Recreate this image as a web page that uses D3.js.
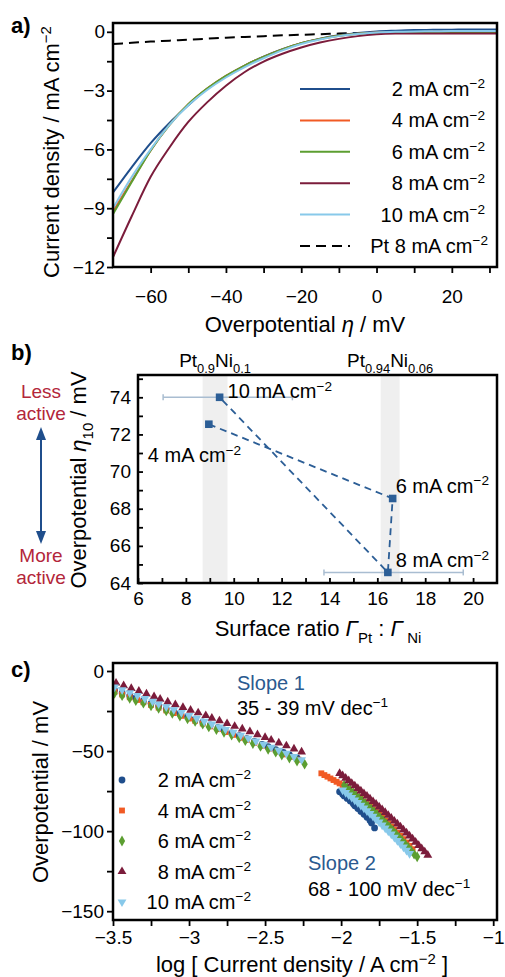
<!DOCTYPE html>
<meta charset="utf-8">
<script src="https://d3js.org/d3.v7.min.js"></script>
<style>
  body { margin: 0; background: #fff; }
  svg text { font-family: "Liberation Sans", Arial, sans-serif; }
</style>
<div id="chart"></div>
<script>

// ---------- data ----------
// series names (current density used for deposition) and colours
var depNames = ["2", "4", "6", "8", "10"];
var depColors = ["#1f4e8c", "#f15a24", "#5c9e31", "#7b1c3b", "#88c9ea"];

// a) polarisation curves: overpotential (mV) vs current density (mA cm-2)
var etaA = [-70, -65, -60, -55, -50, -45, -40, -35, -30, -25, -20, -15, -10, -5, 0, 5, 10, 15, 20, 25, 32];
var lsv2 = [-8.2, -6.9, -5.68, -4.65, -3.75, -2.92, -2.27, -1.72, -1.27, -0.89, -0.58, -0.35, -0.18, -0.06, 0.02, 0.06, 0.09, 0.1, 0.11, 0.12, 0.12];
var lsv4 = [-9.15, -7.6, -6.05, -4.75, -3.7, -2.9, -2.25, -1.72, -1.28, -0.9, -0.58, -0.36, -0.2, -0.1, -0.04, -0.02, -0.01, 0, 0, 0, 0];
var lsv6 = [-9.3, -7.65, -6.05, -4.75, -3.7, -2.9, -2.25, -1.72, -1.28, -0.9, -0.58, -0.36, -0.2, -0.1, -0.05, -0.03, -0.02, -0.02, -0.02, -0.02, -0.02];
var lsv8 = [-11.5, -9.4, -7.4, -5.9, -4.6, -3.6, -2.75, -2.05, -1.52, -1.12, -0.8, -0.55, -0.36, -0.22, -0.13, -0.09, -0.08, -0.08, -0.08, -0.08, -0.08];
var lsv10 = [-9.0, -7.4, -6.0, -4.75, -3.75, -2.97, -2.33, -1.8, -1.35, -0.95, -0.62, -0.39, -0.22, -0.11, -0.04, 0.0, 0.02, 0.03, 0.04, 0.04, 0.04];
var lsvPt = [-0.62, -0.56, -0.5, -0.45, -0.4, -0.35, -0.3, -0.26, -0.22, -0.18, -0.15, -0.12, -0.09, -0.06, -0.04, -0.02, 0, 0.01, 0.02, 0.03, 0.04];

// b) overpotential at 10 mA cm-2 vs surface ratio
var ratioNames = ["4", "6", "8", "10"];
var ratio = [8.96, 16.64, 16.44, 9.41];
var eta10 = [72.55, 68.55, 64.57, 74.0];
var ratioErrLo = [null, null, 13.77, 7.05];
var ratioErrHi = [null, null, 19.59, 12.45];
var bandLo = [8.70, 16.14];
var bandHi = [9.74, 16.93];

// c) Tafel plots: log j (A cm-2) and overpotential (mV), two regions
var tafX2a = [-3.49,-3.44,-3.39,-3.35,-3.30,-3.25,-3.20,-3.15,-3.10,-3.06,-3.01,-2.96,-2.91,-2.86,-2.81,-2.77,-2.72,-2.67,-2.62,-2.57,-2.52,-2.48,-2.43,-2.38,-2.34,-2.29];
var tafY2a = [-12.0,-13.7,-15.4,-16.8,-18.5,-20.2,-21.9,-23.6,-25.3,-26.7,-28.4,-30.1,-31.8,-33.6,-35.4,-36.8,-38.6,-40.4,-42.2,-44.0,-45.8,-47.3,-49.1,-50.9,-52.4,-54.3];
var tafX2b = [-2.01,-1.99,-1.98,-1.96,-1.94,-1.92,-1.91,-1.89,-1.87,-1.85,-1.83,-1.81,-1.80,-1.78];
var tafY2b = [-75.4,-76.9,-78.0,-79.6,-81.2,-82.9,-84.2,-85.9,-87.7,-89.5,-91.4,-93.3,-94.9,-98.0];

var tafX4a = [-3.49,-3.44,-3.39,-3.34,-3.30,-3.25,-3.20,-3.15,-3.10,-3.05,-3.00,-2.96,-2.91,-2.86,-2.81,-2.76,-2.71,-2.66,-2.62,-2.57,-2.52,-2.47,-2.42,-2.37,-2.33,-2.28];
var tafY4a = [-13.0,-14.7,-16.4,-18.1,-19.5,-21.2,-22.9,-24.6,-26.3,-28.0,-29.7,-31.1,-32.8,-34.6,-36.3,-38.1,-39.9,-41.7,-43.1,-44.9,-46.7,-48.5,-50.3,-52.1,-53.6,-55.4];
var tafX4b = [-2.13,-2.11,-2.09,-2.07,-2.05,-2.03,-2.01,-1.99,-1.97,-1.95,-1.93,-1.91,-1.89,-1.87,-1.85,-1.83,-1.81,-1.79,-1.77,-1.75,-1.73,-1.71,-1.69,-1.67,-1.65,-1.63,-1.61,-1.59,-1.57,-1.55,-1.53];
var tafY4b = [-63.9,-65.0,-66.0,-67.1,-68.1,-69.2,-70.2,-71.3,-72.6,-74.0,-75.4,-76.9,-78.4,-79.9,-81.5,-83.1,-84.7,-86.4,-88.1,-89.8,-91.6,-93.4,-95.2,-97.1,-99.0,-101.0,-103.0,-105.0,-107.1,-109.2,-111.3];

var tafX6a = [-3.49,-3.44,-3.39,-3.35,-3.30,-3.25,-3.20,-3.15,-3.11,-3.06,-3.01,-2.96,-2.91,-2.87,-2.82,-2.77,-2.72,-2.67,-2.63,-2.58,-2.53,-2.48,-2.43,-2.39,-2.34,-2.29,-2.24];
var tafY6a = [-13.9,-15.4,-17.0,-18.5,-20.1,-21.7,-23.3,-24.9,-26.5,-28.1,-29.8,-31.5,-33.2,-34.9,-36.6,-38.3,-40.0,-41.8,-43.5,-45.3,-47.1,-48.9,-50.7,-52.5,-54.3,-56.2,-58.2];
var tafX6b = [-1.98,-1.96,-1.94,-1.92,-1.90,-1.88,-1.86,-1.84,-1.82,-1.80,-1.78,-1.76,-1.74,-1.72,-1.70,-1.68,-1.66,-1.64,-1.62,-1.60,-1.58,-1.56,-1.54,-1.52,-1.50];
var tafY6b = [-71.3,-72.9,-74.5,-76.1,-77.7,-79.4,-81.1,-82.8,-84.5,-86.3,-88.1,-89.9,-91.8,-93.7,-95.6,-97.6,-99.6,-101.6,-103.7,-105.8,-107.9,-110.0,-112.2,-114.4,-116.0];

var tafX8a = [-3.48,-3.43,-3.38,-3.33,-3.28,-3.23,-3.19,-3.14,-3.09,-3.04,-2.99,-2.94,-2.89,-2.85,-2.80,-2.75,-2.70,-2.65,-2.60,-2.55,-2.50,-2.46,-2.41,-2.36,-2.31,-2.26];
var tafY8a = [-7.5,-9.2,-10.9,-12.6,-14.3,-16.0,-17.6,-19.3,-21.0,-22.7,-24.4,-26.1,-27.8,-29.4,-31.1,-32.8,-34.5,-36.2,-37.9,-39.7,-41.5,-43.1,-44.9,-46.7,-48.6,-50.5];
var tafX8b = [-2.01,-1.99,-1.97,-1.95,-1.93,-1.91,-1.89,-1.87,-1.85,-1.83,-1.81,-1.79,-1.77,-1.75,-1.73,-1.71,-1.69,-1.67,-1.65,-1.63,-1.61,-1.59,-1.57,-1.55,-1.53,-1.51,-1.49,-1.47,-1.45,-1.43];
var tafY8b = [-63.9,-65.4,-66.9,-68.5,-70.1,-71.7,-73.3,-74.9,-76.5,-78.1,-79.8,-81.5,-83.2,-84.9,-86.6,-88.3,-90.1,-91.9,-93.7,-95.5,-97.3,-99.2,-101.1,-103.0,-104.9,-106.9,-108.9,-110.9,-112.9,-115.0];

var tafX10a = [-3.49,-3.44,-3.39,-3.34,-3.29,-3.24,-3.20,-3.15,-3.10,-3.05,-3.00,-2.95,-2.90,-2.85,-2.80,-2.76,-2.71,-2.66,-2.61,-2.56,-2.51,-2.46,-2.41,-2.36,-2.31,-2.26];
var tafY10a = [-10.0,-11.8,-13.6,-15.4,-17.2,-19.0,-20.6,-22.4,-24.2,-26.0,-27.8,-29.6,-31.4,-33.2,-35.0,-36.5,-38.3,-40.1,-42.0,-43.8,-45.7,-47.6,-49.5,-51.4,-53.4,-55.4];
var tafX10b = [-1.99,-1.97,-1.95,-1.93,-1.91,-1.89,-1.87,-1.85,-1.83,-1.81,-1.79,-1.77,-1.75,-1.73,-1.71,-1.69,-1.67,-1.65,-1.63,-1.61,-1.59,-1.57,-1.55];
var tafY10b = [-74.4,-75.9,-77.4,-79.0,-80.6,-82.2,-83.9,-85.6,-87.3,-89.0,-90.8,-92.6,-94.4,-96.2,-98.1,-100.0,-101.9,-103.9,-105.9,-107.9,-110.0,-112.0,-114.0];

// ---------- helpers ----------
var FONT = 19;
var svg = d3.select("#chart").append("svg").attr("width", 505).attr("height", 977);

// text made of pieces: [string, kind] with kind "" | "sup" | "sub" | "it"
function rich(sel, size, parts) {
  var shift = 0;
  parts.forEach(function (p) {
    var t = sel.append("tspan").text(p[0]);
    var target = p[1] === "sup" ? -0.38 * size : p[1] === "sub" ? 0.3 * size : 0;
    if (target !== shift) t.attr("dy", target - shift);
    shift = target;
    if (p[1] === "sup" || p[1] === "sub") t.attr("font-size", 0.68 * size);
    if (p[1] === "it") t.attr("font-style", "italic");
  });
  return sel;
}

function unitLabel(g, x, y, num, size, anchor, color) {
  var t = g.append("text").attr("x", x).attr("y", y).attr("font-size", size)
    .attr("text-anchor", anchor || "start").attr("fill", color || "#000");
  rich(t, size, [[num + " mA cm", ""], ["\u22122", "sup"]]);
  return t;
}

function axes(x, y, o) {
  var len = o.inward ? -5 : 6;
  var left = x.range()[0], right = x.range()[1], bottom = y.range()[0], top = y.range()[1];
  var fmt = d3.format("~g");
  var gx = svg.append("g").attr("transform", "translate(0," + bottom + ")")
    .call(d3.axisBottom(x).tickValues(o.xMajor).tickSize(len).tickPadding(o.xPad).tickFormat(fmt));
  var gx2 = svg.append("g").attr("transform", "translate(0," + bottom + ")")
    .call(d3.axisBottom(x).tickValues(o.xMinor).tickSize(len).tickFormat(""));
  var gy = svg.append("g").attr("transform", "translate(" + left + ",0)")
    .call(d3.axisLeft(y).tickValues(o.yMajor).tickSize(len).tickPadding(o.yPad).tickFormat(fmt));
  var gy2 = svg.append("g").attr("transform", "translate(" + left + ",0)")
    .call(d3.axisLeft(y).tickValues(o.yMinor).tickSize(len).tickFormat(""));
  [gx, gx2, gy, gy2].forEach(function (g) {
    g.select(".domain").remove();
    g.selectAll("line").attr("stroke", "#000").attr("stroke-width", 1.8);
    g.selectAll("text").attr("font-size", FONT).attr("font-family", "Liberation Sans, Arial, sans-serif").attr("fill", "#000");
  });
  svg.append("rect").attr("x", left).attr("y", top).attr("width", right - left).attr("height", bottom - top)
    .attr("fill", "none").attr("stroke", "#000").attr("stroke-width", 2.5);
}

function clip(id, x, y) {
  svg.append("clipPath").attr("id", id).append("rect")
    .attr("x", x.range()[0]).attr("y", y.range()[1])
    .attr("width", x.range()[1] - x.range()[0]).attr("height", y.range()[0] - y.range()[1]);
}

function panelLetter(t, x, y) {
  svg.append("text").attr("x", x).attr("y", y).attr("font-size", 22).attr("font-weight", "bold").text(t);
}

// ---------- a) polarisation curves ----------
var ax = d3.scaleLinear().domain([-70, 32]).range([113, 497]);
var ay = d3.scaleLinear().domain([-12, 0.45]).range([267, 23]);
clip("clipA", ax, ay);

var lsvAll = [lsv2, lsv4, lsv6, lsv8, lsv10];
var lineA = d3.line().curve(d3.curveMonotoneX)
  .x(function (d, i) { return ax(etaA[i]); })
  .y(function (d) { return ay(d); });

var gA = svg.append("g").attr("clip-path", "url(#clipA)");
gA.append("path").datum(lsvPt).attr("d", lineA).attr("fill", "none")
  .attr("stroke", "#000").attr("stroke-width", 2).attr("stroke-dasharray", "10,6");
lsvAll.forEach(function (s, k) {
  gA.append("path").datum(s).attr("d", lineA).attr("fill", "none")
    .attr("stroke", depColors[k]).attr("stroke-width", 2);
});

axes(ax, ay, {
  xMajor: [-60, -40, -20, 0, 20], xMinor: [-50, -30, -10, 10, 30],
  yMajor: [0, -3, -6, -9, -12], yMinor: [-1.5, -4.5, -7.5, -10.5],
  xPad: 17, yPad: 2
});

// legend a
depNames.forEach(function (n, k) {
  var yy = 89 + k * 31.4;
  svg.append("line").attr("x1", 300).attr("x2", 350).attr("y1", yy).attr("y2", yy)
    .attr("stroke", depColors[k]).attr("stroke-width", 2);
  unitLabel(svg, 485, yy + 7, n, 20, "end");
});
svg.append("line").attr("x1", 300).attr("x2", 350).attr("y1", 246).attr("y2", 246)
  .attr("stroke", "#000").attr("stroke-width", 2).attr("stroke-dasharray", "10,6");
unitLabel(svg, 488, 253, "Pt 8", 20, "end");

rich(svg.append("text").attr("x", 305).attr("y", 332).attr("font-size", 22).attr("text-anchor", "middle"),
  22, [["Overpotential ", ""], ["\u03b7", "it"], [" / mV", ""]]);
rich(svg.append("text").attr("transform", "translate(59,152) rotate(-90)").attr("font-size", 22).attr("text-anchor", "middle"),
  22, [["Current density / mA cm", ""], ["\u22122", "sup"]]);
panelLetter("a)", 11, 33);

// ---------- b) overpotential vs surface ratio ----------
var bx = d3.scaleLinear().domain([6, 21]).range([138, 497]);
var by = d3.scaleLinear().domain([64, 75.2]).range([583, 375]);
var bBlue = "#2c5e96";

bandLo.forEach(function (lo, i) {
  svg.append("rect").attr("x", bx(lo)).attr("y", by.range()[1])
    .attr("width", bx(bandHi[i]) - bx(lo)).attr("height", by.range()[0] - by.range()[1])
    .attr("fill", "#efefef");
});

ratio.forEach(function (r, i) {
  if (ratioErrLo[i] === null) return;
  var yy = by(eta10[i]);
  svg.append("line").attr("x1", bx(ratioErrLo[i])).attr("x2", bx(ratioErrHi[i]))
    .attr("y1", yy).attr("y2", yy).attr("stroke", "#a9bdd1").attr("stroke-width", 1.5);
  [ratioErrLo[i], ratioErrHi[i]].forEach(function (e) {
    svg.append("line").attr("x1", bx(e)).attr("x2", bx(e)).attr("y1", yy - 3).attr("y2", yy + 3)
      .attr("stroke", "#a9bdd1").attr("stroke-width", 1.5);
  });
});

svg.append("path").datum(ratio)
  .attr("d", d3.line().x(function (d) { return bx(d); }).y(function (d, i) { return by(eta10[i]); }))
  .attr("fill", "none").attr("stroke", bBlue).attr("stroke-width", 1.8).attr("stroke-dasharray", "7,5");

svg.selectAll(".bpt").data(ratio).enter().append("rect")
  .attr("x", function (d) { return bx(d) - 3.8; })
  .attr("y", function (d, i) { return by(eta10[i]) - 3.8; })
  .attr("width", 7.6).attr("height", 7.6).attr("fill", bBlue);

// labels next to the points (offsets in px)
var bOff = [[-61, 38], [3, -6], [8, -5], [8, 1]];
ratioNames.forEach(function (n, i) {
  unitLabel(svg, bx(ratio[i]) + bOff[i][0], by(eta10[i]) + bOff[i][1], n, 20, "start");
});

axes(bx, by, {
  inward: true,
  xMajor: [6, 8, 10, 12, 14, 16, 18, 20], xMinor: [7, 9, 11, 13, 15, 17, 19],
  yMajor: [64, 66, 68, 70, 72, 74], yMinor: [65, 67, 69, 71, 73, 75],
  xPad: 9, yPad: 7
});

// compositions above the bands
rich(svg.append("text").attr("x", bx((bandLo[0] + bandHi[0]) / 2)).attr("y", 367).attr("font-size", 19).attr("text-anchor", "middle"),
  19, [["Pt", ""], ["0.9", "sub"], ["Ni", ""], ["0.1", "sub"]]);
rich(svg.append("text").attr("x", bx((bandLo[1] + bandHi[1]) / 2)).attr("y", 367).attr("font-size", 19).attr("text-anchor", "middle"),
  19, [["Pt", ""], ["0.94", "sub"], ["Ni", ""], ["0.06", "sub"]]);

rich(svg.append("text").attr("x", 318).attr("y", 636).attr("font-size", 22).attr("text-anchor", "middle"),
  22, [["Surface ratio ", ""], ["\u0393", "it"], ["Pt", "sub"], [" : ", ""], ["\u0393", "it"], [" Ni", "sub"]]);
rich(svg.append("text").attr("transform", "translate(86,480) rotate(-90)").attr("font-size", 22).attr("text-anchor", "middle"),
  22, [["Overpotential ", ""], ["\u03b7", "it"], ["10", "sub"], [" / mV", ""]]);

// activity arrow
var red = "#b3263a";
[["Less", 398], ["active", 420], ["More", 562], ["active", 584]].forEach(function (t) {
  svg.append("text").attr("x", 41).attr("y", t[1]).attr("font-size", 19)
    .attr("text-anchor", "middle").attr("fill", red).text(t[0]);
});
svg.append("line").attr("x1", 41).attr("x2", 41).attr("y1", 434).attr("y2", 537)
  .attr("stroke", "#1f4e8c").attr("stroke-width", 2);
svg.append("path").attr("d", "M41,427 L36,440 L46,440 Z").attr("fill", "#1f4e8c");
svg.append("path").attr("d", "M41,544 L36,531 L46,531 Z").attr("fill", "#1f4e8c");
panelLetter("b)", 11, 360);

// ---------- c) Tafel plots ----------
var cx = d3.scaleLinear().domain([-3.5, -0.975]).range([113, 497]);
var cy = d3.scaleLinear().domain([-155.5, 5]).range([920, 663]);
clip("clipC", cx, cy);

var tafX = [tafX2a.concat(tafX2b), tafX4a.concat(tafX4b), tafX6a.concat(tafX6b), tafX8a.concat(tafX8b), tafX10a.concat(tafX10b)];
var tafY = [tafY2a.concat(tafY2b), tafY4a.concat(tafY4b), tafY6a.concat(tafY6b), tafY8a.concat(tafY8b), tafY10a.concat(tafY10b)];
var symTypes = [d3.symbolCircle, d3.symbolSquare, d3.symbolDiamond, d3.symbolTriangle, d3.symbolTriangle];
var symSizes = [36, 34, 34, 34, 34];
var symRot = [0, 0, 0, 0, 180];

var gC = svg.append("g").attr("clip-path", "url(#clipC)");
tafX.forEach(function (xs, k) {
  var sym = d3.symbol().type(symTypes[k]).size(symSizes[k]);
  gC.selectAll(".s" + k).data(xs).enter().append("path")
    .attr("d", sym)
    .attr("transform", function (d, i) {
      return "translate(" + cx(d) + "," + cy(tafY[k][i]) + ") rotate(" + symRot[k] + ")";
    })
    .attr("fill", depColors[k]);
});

axes(cx, cy, {
  xMajor: [-3.5, -3, -2.5, -2, -1.5, -1], xMinor: [-3.25, -2.75, -2.25, -1.75, -1.25],
  yMajor: [0, -50, -100, -150], yMinor: [-25, -75, -125],
  xPad: 5, yPad: 3
});

// legend c
depNames.forEach(function (n, k) {
  var yy = 780 + k * 30.5;
  svg.append("path").attr("d", d3.symbol().type(symTypes[k]).size(symSizes[k]))
    .attr("transform", "translate(122," + yy + ") rotate(" + symRot[k] + ")")
    .attr("fill", depColors[k]);
  unitLabel(svg, 251, yy + 7, n, 20, "end");
});

var slopeBlue = "#2a5a90";
svg.append("text").attr("x", 237).attr("y", 690).attr("font-size", 20).attr("fill", slopeBlue).text("Slope 1");
rich(svg.append("text").attr("x", 237).attr("y", 715).attr("font-size", 20),
  20, [["35 - 39 mV dec", ""], ["\u22121", "sup"]]);
svg.append("text").attr("x", 308).attr("y", 870).attr("font-size", 20).attr("fill", slopeBlue).text("Slope 2");
rich(svg.append("text").attr("x", 308).attr("y", 896).attr("font-size", 20),
  20, [["68 - 100 mV dec", ""], ["\u22121", "sup"]]);

rich(svg.append("text").attr("x", 302).attr("y", 972).attr("font-size", 22).attr("text-anchor", "middle"),
  22, [["log [ Current density / A cm", ""], ["\u22122", "sup"], [" ]", ""]]);
svg.append("text").attr("transform", "translate(48,792) rotate(-90)").attr("font-size", 22)
  .attr("text-anchor", "middle").text("Overpotential / mV");
panelLetter("c)", 11, 677);

</script>
